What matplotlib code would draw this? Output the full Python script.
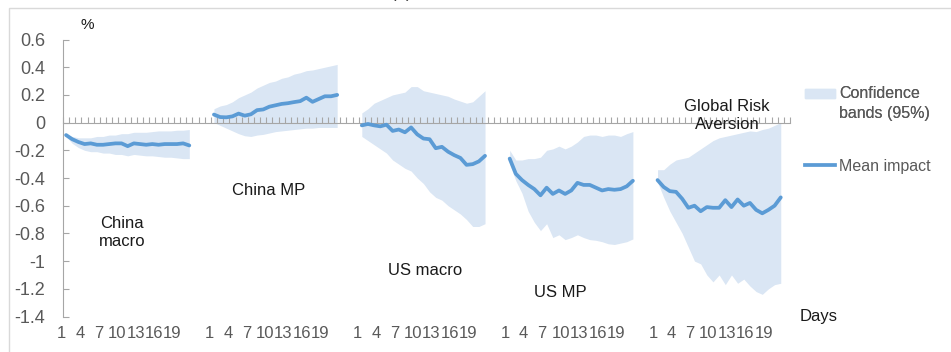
import numpy as np
import matplotlib
matplotlib.use('Agg')
import matplotlib.pyplot as plt
import matplotlib.transforms as mtransforms
from matplotlib.patches import Patch, Rectangle
from matplotlib.lines import Line2D
from matplotlib.legend_handler import HandlerPatch

plt.rcParams['font.family'] = ['Liberation Sans', 'DejaVu Sans']

# Shocks (one panel-group each), 21 days per shock
shocks = ['China\nmacro', 'China MP', 'US macro', 'US MP', 'Global Risk\nAversion']
day_ticks = [1, 4, 7, 10, 13, 16, 19]
n_days = 21

china_macro_mean = [-0.09, -0.12, -0.14, -0.155, -0.15, -0.16, -0.16, -0.155, -0.15, -0.15, -0.17,
                    -0.15, -0.155, -0.16, -0.155, -0.16, -0.155, -0.155, -0.155, -0.15, -0.165]
china_macro_low = [-0.10, -0.15, -0.18, -0.20, -0.21, -0.21, -0.22, -0.22, -0.23, -0.23, -0.24,
                   -0.23, -0.235, -0.24, -0.24, -0.245, -0.25, -0.25, -0.255, -0.26, -0.26]
china_macro_up = [-0.09, -0.10, -0.11, -0.11, -0.11, -0.10, -0.10, -0.09, -0.09, -0.08, -0.08,
                  -0.07, -0.07, -0.07, -0.065, -0.06, -0.06, -0.06, -0.055, -0.055, -0.05]

china_mp_mean = [0.058, 0.04, 0.038, 0.045, 0.065, 0.05, 0.06, 0.09, 0.095, 0.115, 0.125,
                 0.135, 0.14, 0.148, 0.155, 0.18, 0.15, 0.17, 0.19, 0.19, 0.20]
china_mp_low = [0.0, -0.02, -0.04, -0.06, -0.08, -0.095, -0.10, -0.09, -0.085, -0.075, -0.065,
                -0.06, -0.055, -0.05, -0.045, -0.04, -0.04, -0.035, -0.035, -0.035, -0.035]
china_mp_up = [0.10, 0.12, 0.13, 0.15, 0.18, 0.20, 0.22, 0.25, 0.27, 0.29, 0.30,
               0.32, 0.33, 0.35, 0.36, 0.375, 0.38, 0.39, 0.40, 0.41, 0.42]

us_macro_mean = [-0.02, -0.01, -0.02, -0.027, -0.015, -0.06, -0.05, -0.07, -0.035, -0.085, -0.115,
                 -0.12, -0.185, -0.175, -0.21, -0.235, -0.255, -0.305, -0.30, -0.28, -0.24]
us_macro_low = [-0.10, -0.13, -0.16, -0.19, -0.22, -0.27, -0.30, -0.33, -0.35, -0.40, -0.44,
                -0.50, -0.54, -0.56, -0.60, -0.63, -0.66, -0.70, -0.75, -0.75, -0.73]
us_macro_up = [0.07, 0.10, 0.14, 0.16, 0.18, 0.20, 0.21, 0.22, 0.26, 0.26, 0.23,
               0.22, 0.21, 0.20, 0.19, 0.17, 0.155, 0.14, 0.15, 0.19, 0.23]

us_mp_mean = [-0.26, -0.37, -0.415, -0.45, -0.48, -0.525, -0.47, -0.515, -0.49, -0.515, -0.49,
              -0.435, -0.45, -0.45, -0.47, -0.49, -0.48, -0.485, -0.48, -0.46, -0.42]
us_mp_low = [-0.30, -0.42, -0.51, -0.64, -0.72, -0.78, -0.73, -0.83, -0.81, -0.845, -0.83,
             -0.81, -0.83, -0.845, -0.85, -0.86, -0.875, -0.88, -0.87, -0.86, -0.84]
us_mp_up = [-0.20, -0.27, -0.27, -0.26, -0.26, -0.25, -0.20, -0.19, -0.17, -0.19, -0.17,
            -0.14, -0.10, -0.09, -0.09, -0.10, -0.09, -0.09, -0.10, -0.08, -0.065]

gra_mean = [-0.415, -0.465, -0.495, -0.50, -0.55, -0.615, -0.60, -0.64, -0.61, -0.615, -0.615,
            -0.56, -0.61, -0.555, -0.60, -0.58, -0.63, -0.655, -0.63, -0.60, -0.54]
gra_low = [-0.43, -0.54, -0.64, -0.72, -0.80, -0.90, -1.00, -1.02, -1.10, -1.15, -1.10,
           -1.17, -1.10, -1.16, -1.13, -1.18, -1.22, -1.24, -1.20, -1.17, -1.16]
gra_up = [-0.34, -0.34, -0.30, -0.27, -0.26, -0.25, -0.22, -0.19, -0.16, -0.13, -0.11,
          -0.10, -0.09, -0.08, -0.07, -0.06, -0.065, -0.05, -0.04, -0.02, 0.0]

means = [china_macro_mean, china_mp_mean, us_macro_mean, us_mp_mean, gra_mean]
lows = [china_macro_low, china_mp_low, us_macro_low, us_mp_low, gra_low]
ups = [china_macro_up, china_mp_up, us_macro_up, us_mp_up, gra_up]

yticks = [0.6, 0.4, 0.2, 0, -0.2, -0.4, -0.6, -0.8, -1, -1.2, -1.4]
ytick_labels = ['0.6', '0.4', '0.2', '0', '-0.2', '-0.4', '-0.6', '-0.8', '-1', '-1.2', '-1.4']

# label anchor for each shock (category units, value)
label_pos = [(9.1, -0.79), (32.9, -0.487), (58.3, -1.07), (80.2, -1.23), (107.3, 0.048)]

band_color = '#dae6f4'
line_color = '#5b9bd5'
axis_gray = '#a6a6a6'
text_gray = '#595959'

group = 24  # 21 days + 3 empty categories

fig = plt.figure(figsize=(9.51, 3.52), dpi=100, facecolor='white')
ax = fig.add_axes([63 / 951, 1 - 316.5 / 352, 727 / 951, 277 / 352])

for g in range(len(shocks)):
    x = g * group + np.arange(n_days)
    ax.fill_between(x, lows[g], ups[g], color=band_color, lw=0, zorder=1)
    ax.plot(x, means[g], color=line_color, lw=2.7, solid_capstyle='round', zorder=3)
    ax.text(label_pos[g][0], label_pos[g][1], shocks[g], ha='center', va='center',
            fontsize=12, color='#1a1a1a', linespacing=1.25, zorder=4)

ax.set_xlim(-0.5, 117.5)
ax.set_ylim(-1.4, 0.6)

# y axis
ax.set_yticks(yticks)
ax.set_yticklabels(ytick_labels)
ax.tick_params(axis='y', direction='in', length=4, width=0.8, color=axis_gray,
               labelsize=13, labelcolor=text_gray, pad=13)
ax.spines['left'].set_color(axis_gray)

# zero line with category tick marks
ax.spines['bottom'].set_position(('data', 0))
ax.spines['bottom'].set_color(axis_gray)
ax.spines['bottom'].set_zorder(2)
ax.set_xticks(np.arange(-0.5, 118, 1))
ax.tick_params(axis='x', direction='in', length=4.5, width=0.8, color=axis_gray,
               labelbottom=False)
ax.spines['top'].set_visible(False)
ax.spines['right'].set_visible(False)

# day labels at the bottom
pos = [g * group + d - 1 for g in range(len(shocks)) for d in day_ticks]
labs = [str(d) for g in range(len(shocks)) for d in day_ticks]
sec = ax.secondary_xaxis('bottom')
sec.set_xticks(pos)
sec.set_xticklabels(labs)
sec.spines['bottom'].set_visible(False)
sec.tick_params(length=0, pad=6.5, labelsize=12, labelcolor=text_gray)
shift = mtransforms.ScaledTranslation(-4.5 / 100, 0, fig.dpi_scale_trans)
for lbl in sec.get_xticklabels():
    lbl.set_transform(lbl.get_transform() + shift)

fig.text(87 / 951, 1 - 25 / 352, '%', ha='center', va='center', fontsize=11, color='#1a1a1a')
fig.text(819 / 951, 1 - 316 / 352, 'Days', ha='center', va='center', fontsize=12, color='#1a1a1a')
fig.text(401 / 951, 1 + 2 / 352, '(a)', ha='center', va='baseline', fontsize=12, color='#333333')


# legend: band patch lifted to sit next to the first text line
def raised_patch(legend, orig_handle, xdescent, ydescent, width, height, fontsize):
    return Rectangle((-xdescent, -ydescent + 7.5), width, height)


leg1 = fig.legend(handles=[Patch(color=band_color)], labels=['Confidence\nbands (95%)'],
                  loc='upper left', bbox_to_anchor=(805 / 951, 1 - 86 / 352), frameon=False,
                  fontsize=11.5, handlelength=1.9, handleheight=0.5, handletextpad=0.25,
                  labelcolor=text_gray, borderpad=0, borderaxespad=0,
                  handler_map={Patch: HandlerPatch(patch_func=raised_patch)})
leg1.get_texts()[0].set_linespacing(1.4)
fig.add_artist(leg1)
fig.legend(handles=[Line2D([], [], color=line_color, lw=2.7)], labels=['Mean impact'],
           loc='upper left', bbox_to_anchor=(805 / 951, 1 - 159 / 352), frameon=False,
           fontsize=11.5, handlelength=1.9, handletextpad=0.25,
           labelcolor=text_gray, borderpad=0, borderaxespad=0)

# thin frame at top and left
fig.add_artist(Rectangle((9 / 951, -0.1), 1.0, 1 - 8 / 352 + 0.1, transform=fig.transFigure,
                         fill=False, edgecolor='#d9d9d9', lw=1))

fig.savefig('out.png', dpi=100, facecolor='white')
